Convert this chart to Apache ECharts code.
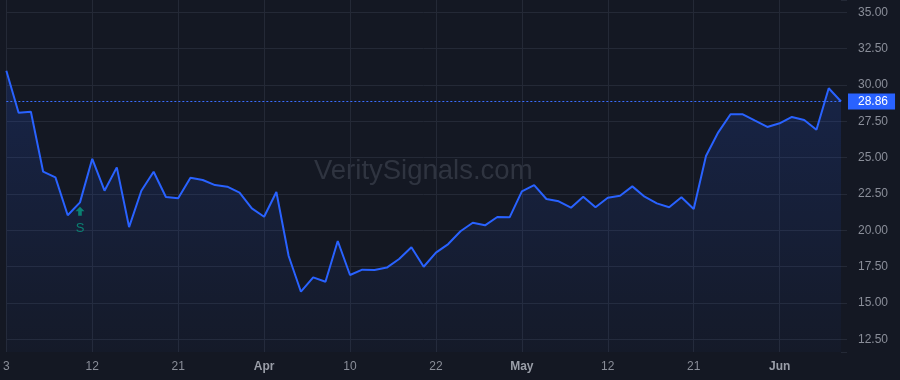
<!DOCTYPE html>
<html>
<head>
<meta charset="utf-8">
<script src="https://cdn.jsdelivr.net/npm/echarts@6/dist/echarts.min.js"></script>
<style>
html,body{margin:0;padding:0;background:#141823;}
#chart{width:900px;height:380px;}
</style>
</head>
<body>
<div id="chart"></div>
<script>
// Trading days, 2025-03-03 .. 2025-06-09
var dates = [
  '2025-03-03','2025-03-04','2025-03-05','2025-03-06','2025-03-07','2025-03-10','2025-03-11','2025-03-12','2025-03-13','2025-03-14',
  '2025-03-17','2025-03-18','2025-03-19','2025-03-20','2025-03-21','2025-03-24','2025-03-25','2025-03-26','2025-03-27','2025-03-28',
  '2025-03-31','2025-04-01','2025-04-02','2025-04-03','2025-04-04','2025-04-07','2025-04-08','2025-04-09','2025-04-10','2025-04-11',
  '2025-04-14','2025-04-15','2025-04-16','2025-04-17','2025-04-21','2025-04-22','2025-04-23','2025-04-24','2025-04-25','2025-04-28',
  '2025-04-29','2025-04-30','2025-05-01','2025-05-02','2025-05-05','2025-05-06','2025-05-07','2025-05-08','2025-05-09','2025-05-12',
  '2025-05-13','2025-05-14','2025-05-15','2025-05-16','2025-05-19','2025-05-20','2025-05-21','2025-05-22','2025-05-23','2025-05-27',
  '2025-05-28','2025-05-29','2025-05-30','2025-06-02','2025-06-03','2025-06-04','2025-06-05','2025-06-06','2025-06-09'
];
var prices = [
  30.98, 28.09, 28.16, 24.03, 23.64, 21.03, 21.92, 24.92, 22.72, 24.33,
  20.22, 22.72, 24.03, 22.29, 22.20, 23.62, 23.46, 23.11, 23.00, 22.59,
  21.51, 20.93, 22.63, 18.23, 15.77, 16.76, 16.46, 19.26, 16.92, 17.29,
  17.27, 17.43, 18.02, 18.83, 17.49, 18.46, 19.05, 19.93, 20.52, 20.34,
  20.91, 20.89, 22.68, 23.11, 22.15, 21.99, 21.55, 22.31, 21.58, 22.24,
  22.38, 23.02, 22.31, 21.85, 21.58, 22.27, 21.46, 25.11, 26.74, 27.98,
  27.98, 27.54, 27.11, 27.36, 27.80, 27.59, 26.92, 29.77, 28.86
];
var tickIndex = [0, 7, 14, 21, 28, 35, 42, 49, 56, 63];
var tickLabels = ['3', '12', '21', 'Apr', '10', '22', 'May', '12', '21', 'Jun'];
var monthLabels = ['Apr', 'May', 'Jun'];
var signalIndex = [6];
var signalText = ['S'];
var lastPrice = 28.86;
var watermark = 'VeritySignals.com';

var FONT = '"Liberation Sans", Arial, sans-serif';
var chart = echarts.init(document.getElementById('chart'), null, {renderer: 'canvas'});

function isTick(i) { return tickIndex.indexOf(i) >= 0; }

var signalData = signalIndex.map(function (idx, k) {
  return {value: [idx, prices[idx]], label: {formatter: signalText[k]}};
});

chart.setOption({
  animation: false,
  backgroundColor: '#141823',
  graphic: [{
    type: 'text',
    left: 314,
    top: 157,
    z: 0,
    style: {
      text: watermark,
      font: '27.5px ' + FONT,
      fill: 'rgba(120,125,140,0.28)'
    }
  }],
  grid: {left: 5, right: 59, top: 0, bottom: 28, containLabel: false},
  xAxis: {
    type: 'category',
    data: dates,
    boundaryGap: false,
    axisLine: {show: false},
    axisTick: {show: false},
    axisLabel: {
      interval: function (i) { return isTick(i); },
      margin: 9,
      fontFamily: FONT,
      fontSize: 12,
      color: '#8a8e99',
      formatter: function (v, i) {
        var t = tickLabels[tickIndex.indexOf(i)];
        if (t === undefined) return '';
        return monthLabels.indexOf(t) >= 0 ? '{m|' + t + '}' : t;
      },
      rich: {m: {fontWeight: 'bold', color: '#9a9ea8', fontFamily: FONT, fontSize: 12}}
    },
    splitLine: {
      show: true,
      interval: function (i) { return isTick(i); },
      lineStyle: {color: '#242936', width: 1}
    }
  },
  yAxis: {
    type: 'value',
    position: 'right',
    min: 11.621,
    max: 35.847,
    splitNumber: 10,
    minInterval: 2.5,
    maxInterval: 2.5,
    axisLine: {show: false},
    axisTick: {show: true, length: 6, lineStyle: {color: '#242936'}},
    axisLabel: {
      margin: 17,
      fontFamily: FONT,
      fontSize: 12,
      color: '#8a8e99',
      formatter: function (v) {
        var r = v / 2.5;
        return Math.abs(r - Math.round(r)) < 1e-6 ? v.toFixed(2) : '';
      }
    },
    splitLine: {show: true, showMinLine: false, showMaxLine: false, lineStyle: {color: '#242936', width: 1}}
  },
  series: [{
    type: 'line',
    data: prices,
    symbol: 'none',
    z: 3,
    lineStyle: {color: '#2962ff', width: 2},
    areaStyle: {
      origin: 'start',
      color: new echarts.graphic.LinearGradient(0, 0, 0, 1, [
        {offset: 0, color: 'rgba(41,98,255,0.24)'},
        {offset: 1, color: 'rgba(41,98,255,0.04)'}
      ])
    },
    markLine: {
      silent: true,
      symbol: ['none', 'none'],
      lineStyle: {color: '#3a6dff', type: [2, 2], width: 1, opacity: 1},
      label: {
        show: true,
        position: 'end',
        distance: 7,
        formatter: function () { return lastPrice.toFixed(2); },
        backgroundColor: '#2962ff',
        color: '#ffffff',
        fontFamily: FONT,
        fontSize: 12,
        padding: [2, 7, 2, 10],
        borderRadius: 0
      },
      data: [{yAxis: lastPrice}]
    }
  }, {
    type: 'scatter',
    data: signalData,
    z: 4,
    symbol: 'path://M5,0 L10,5 L7,5 L7,10 L3,10 L3,5 L0,5 Z',
    symbolSize: [9, 9],
    symbolOffset: [0, 9],
    itemStyle: {color: '#089981'},
    label: {
      show: true,
      position: 'bottom',
      distance: 6,
      color: '#089981',
      fontFamily: FONT,
      fontSize: 13
    }
  }]
});
</script>
</body>
</html>
